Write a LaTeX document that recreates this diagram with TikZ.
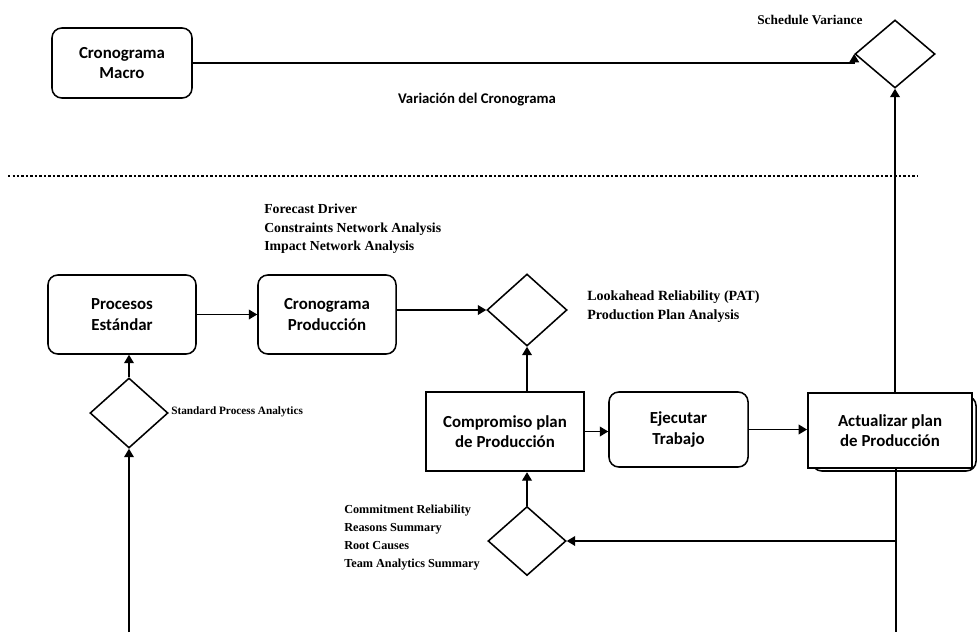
\documentclass[tikz,border=0pt]{standalone}
\usepackage{fontspec}
\setmainfont{Liberation Serif}
\newfontfamily\boxfont{Carlito}
\usetikzlibrary{shapes.geometric,arrows.meta}
\begin{document}
\begin{tikzpicture}[x=0.025cm,y=-0.025cm,
  boxtxt/.style={align=center,font=\boxfont\bfseries\fontsize{12}{14.5}\selectfont,inner sep=0pt},
  rbox/.style={boxtxt,draw,line width=1.1pt,rounded corners=7pt},
  sbox/.style={boxtxt,draw,line width=1.7pt,fill=white},
  dia/.style={draw,diamond,line width=1.1pt,inner sep=0pt},
  lab/.style={align=left,inner sep=0pt,font=\bfseries},
  arr/.style={-{Triangle[length=6pt,width=7pt]},line width=0.9pt},
  ln/.style={line width=0.9pt}]
\useasboundingbox (0,0) rectangle (977,632);
% nodes
\node[rbox,minimum width=3.5cm,minimum height=1.75cm] (macro) at (122,63) {Cronograma\\Macro};
\node[dia,minimum width=2cm,minimum height=1.7cm] (sched) at (895,54) {};
\node[lab,anchor=west,font=\bfseries\fontsize{9.5}{12}\selectfont] (schedl) at (757,20) {Schedule Variance};
\node[boxtxt,font=\boxfont\bfseries\fontsize{10.5}{12}\selectfont] (var) at (477,100) {Variación del Cronograma};
\coordinate (dl) at (8,176);
\coordinate (dr) at (918,176);
\node[rbox,minimum width=3.7cm,minimum height=1.975cm] (proc) at (122,314.5) {Procesos\\Estándar};
\node[rbox,minimum width=3.45cm,minimum height=1.975cm] (prod) at (327,314.5) {Cronograma\\Producción};
\node[lab,anchor=north west,font=\bfseries\fontsize{9.8}{13}\selectfont] (fore) at (264,204) {Forecast Driver\\Constraints Network Analysis\\Impact Network Analysis};
\node[dia,minimum width=2cm,minimum height=1.8cm] (look) at (527,310) {};
\node[lab,anchor=west,font=\bfseries\fontsize{10}{13.5}\selectfont] (lookl) at (587,307) {Lookahead Reliability (PAT)\\Production Plan Analysis};
\node[dia,minimum width=1.95cm,minimum height=1.75cm] (std) at (129,413) {};
\node[lab,anchor=west,font=\bfseries\fontsize{8}{10}\selectfont] (stdl) at (171,412) {Standard Process Analytics};
\node[sbox,minimum width=3.95cm,minimum height=1.975cm] (comp) at (505,431.5) {Compromiso plan\\de Producción};
\node[rbox,minimum width=3.475cm,minimum height=1.875cm] (ejec) at (678.5,429.5) {Ejecutar\\Trabajo};
\node[rbox,minimum width=4.1cm,minimum height=1.875cm] (actsh) at (894,433.5) {};
\node[sbox,line width=1.4pt,minimum width=4.1cm,minimum height=1.875cm] (act) at (890,430.5) {Actualizar plan\\de Producción};
\node[dia,minimum width=1.95cm,minimum height=1.725cm] (low) at (527,541) {};
\node[lab,anchor=north west,font=\bfseries\fontsize{8.7}{12.8}\selectfont] (lowl) at (344,505) {Commitment Reliability\\Reasons Summary\\Root Causes\\Team Analytics Summary};
\coordinate (bl) at (129,632);
\coordinate (br) at (896,632);
\coordinate (jr) at (896,541);
% connectors
\draw[line width=1.1pt,dash pattern=on 1.6pt off 1.6pt] (dl) -- (dr);
\draw[arr] (macro.east) -- (macro.east -| sched.west) -- (sched.west);
\draw[arr] (act.north -| sched.south) -- (sched.south);
\draw[arr] (proc.east) -- (proc.east -| prod.west);
\draw[arr] (prod.east |- look.west) -- (look.west);
\draw[arr] (comp.north -| look.south) -- (look.south);
\draw[arr] (comp.east) -- (comp.east -| ejec.west);
\draw[arr] (ejec.east) -- (ejec.east -| act.west);
\draw[ln] (act.south -| br) -- (br);
\draw[arr] (jr) -- (low.east);
\draw[arr] (low.north) -- (low.north |- comp.south);
\draw[arr] (bl) -- (std.south);
\draw[arr] (std.north) -- (std.north |- proc.south);
\end{tikzpicture}
\end{document}
